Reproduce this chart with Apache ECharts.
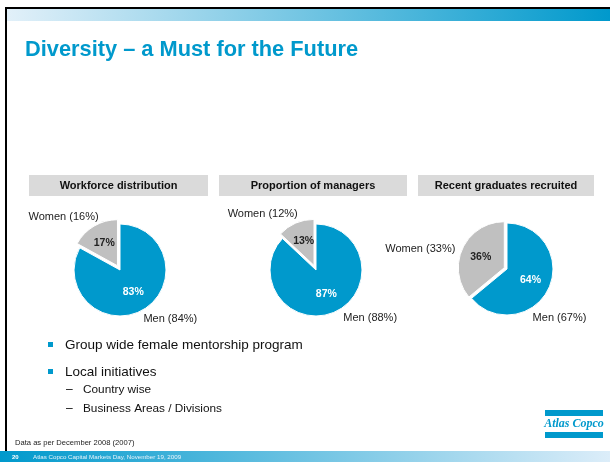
<!DOCTYPE html>
<html>
<head>
<meta charset="utf-8">
<script src="https://cdn.jsdelivr.net/npm/echarts@6/dist/echarts.min.js"></script>
<style>
html, body { margin: 0; padding: 0; background: #fff; }
#main { width: 610px; height: 462px; }
</style>
</head>
<body>
<div id="main"></div>
<script>
// chart values
const panelTitles = ['Workforce distribution', 'Proportion of managers', 'Recent graduates recruited'];
const sliceNames = ['Men', 'Women'];
const share2008 = [[83, 17], [87, 13], [64, 36]];
const share2007 = [[84, 16], [88, 12], [67, 33]];
const bullets = ['Group wide female mentorship program', 'Local initiatives'];
const subBullets = ['Country wise', 'Business Areas / Divisions'];

const BLUE = '#0099cc';
const GREY = '#c0c0c0';
const FONT = '"Liberation Sans", Arial, sans-serif';

// layout of the three pies
const centers = [[120, 270], [316, 270], [507, 269]];
const boxes = [[29, 208], [219, 407], [418, 594]];
const explode = [5, 5, 3];
// nudges for the outside labels, [men, women]
const labelShift = [
    [[0, 9], [2, -13]],
    [[9, 6], [0, -14]],
    [[-16, 29], [-10, 0]]
];

const chart = echarts.init(document.getElementById('main'), null, {renderer: 'canvas'});

var series = [];
share2008.forEach(function (vals, i) {
    series.push({
        type: 'pie',
        center: centers[i],
        radius: 46,
        startAngle: 90,
        clockwise: true,
        selectedMode: 'single',
        selectedOffset: explode[i],
        animation: false,
        silent: true,
        itemStyle: {borderColor: '#fff', borderWidth: 1},
        select: {itemStyle: {borderColor: '#fff', borderWidth: 1}},
        emphasis: {disabled: true},
        label: {
            position: 'inside',
            formatter: '{c}%',
            fontFamily: FONT,
            fontSize: 10.5,
            fontWeight: 'bold'
        },
        labelLine: {show: false},
        data: vals.map(function (v, k) {
            return {
                value: v,
                name: sliceNames[k],
                selected: k === 1,
                itemStyle: {color: k === 0 ? BLUE : GREY},
                label: {color: k === 0 ? '#fff' : '#222'}
            };
        })
    });
    // second ring only carries the 2007 labels outside the pie
    series.push({
        type: 'pie',
        center: centers[i],
        radius: 46,
        startAngle: 90,
        clockwise: true,
        animation: false,
        silent: true,
        avoidLabelOverlap: false,
        itemStyle: {color: 'rgba(0,0,0,0)'},
        emphasis: {disabled: true},
        label: {
            position: 'outside',
            distanceToLabelLine: 0,
            color: '#222',
            fontFamily: FONT,
            fontSize: 11,
            formatter: function (p) {
                return p.name + ' (' + share2007[i][p.dataIndex] + '%)';
            }
        },
        labelLine: {show: false, length: 0, length2: 0},
        labelLayout: function (p) {
            var s = labelShift[i][p.dataIndex];
            return {dx: s[0], dy: s[1]};
        },
        data: vals.map(function (v, k) {
            return {value: v, name: sliceNames[k]};
        })
    });
});

var graphics = [
    // slide frame
    {type: 'rect', shape: {x: 5, y: 7, width: 605, height: 2}, style: {fill: '#000'}},
    {type: 'rect', shape: {x: 5, y: 7, width: 2, height: 445}, style: {fill: '#000'}},
    {type: 'rect', shape: {x: 7, y: 9, width: 603, height: 12},
        style: {fill: new echarts.graphic.LinearGradient(0, 0, 1, 0, [
            {offset: 0, color: '#e2f0f9'}, {offset: 1, color: BLUE}])}},
    {type: 'rect', shape: {x: 0, y: 451, width: 610, height: 11},
        style: {fill: new echarts.graphic.LinearGradient(0, 0, 1, 0, [
            {offset: 0, color: BLUE}, {offset: 1, color: '#dcedf9'}])}},
    {type: 'text', x: 25, y: 50, style: {text: 'Diversity \u2013 a Must for the Future', fill: BLUE,
        font: 'bold 21.8px ' + FONT, verticalAlign: 'middle'}},
    {type: 'text', x: 15, y: 443, style: {text: 'Data as per December 2008 (2007)', fill: '#222',
        font: '7.6px ' + FONT, verticalAlign: 'middle'}},
    {type: 'text', x: 12, y: 457, style: {text: '20', fill: '#fff', font: 'bold 6px ' + FONT, verticalAlign: 'middle'}},
    {type: 'text', x: 33, y: 457, style: {text: 'Atlas Copco Capital Markets Day, November 19, 2009', fill: '#e8f4fb',
        font: '6.2px ' + FONT, verticalAlign: 'middle'}},
    // logo
    {type: 'rect', shape: {x: 545, y: 410, width: 58, height: 6}, style: {fill: BLUE}},
    {type: 'rect', shape: {x: 545, y: 432, width: 58, height: 6}, style: {fill: BLUE}},
    {type: 'text', x: 574, y: 424, style: {text: 'Atlas Copco', fill: BLUE,
        font: 'italic bold 12px "Liberation Serif", serif', align: 'center', verticalAlign: 'middle'}}
];

boxes.forEach(function (b, i) {
    graphics.push({type: 'rect', shape: {x: b[0], y: 175, width: b[1] - b[0], height: 21}, style: {fill: '#dadada'}});
    graphics.push({type: 'text', x: (b[0] + b[1]) / 2, y: 186, style: {text: panelTitles[i], fill: '#111',
        font: 'bold 11px ' + FONT, align: 'center', verticalAlign: 'middle'}});
});

var by = [345, 372];
bullets.forEach(function (t, i) {
    graphics.push({type: 'rect', shape: {x: 48, y: by[i] - 3, width: 5, height: 5}, style: {fill: BLUE}});
    graphics.push({type: 'text', x: 65, y: by[i], style: {text: t, fill: '#111', font: '13.5px ' + FONT, verticalAlign: 'middle'}});
});
var sy = [390, 409];
subBullets.forEach(function (t, i) {
    graphics.push({type: 'text', x: 66, y: sy[i], style: {text: '\u2013', fill: '#111', font: '12px ' + FONT, verticalAlign: 'middle'}});
    graphics.push({type: 'text', x: 83, y: sy[i], style: {text: t, fill: '#111', font: '11.8px ' + FONT, verticalAlign: 'middle'}});
});

var option = {
    backgroundColor: '#fff',
    animation: false,
    graphic: graphics,
    series: series
};
chart.setOption(option, true);
</script>
</body>
</html>
